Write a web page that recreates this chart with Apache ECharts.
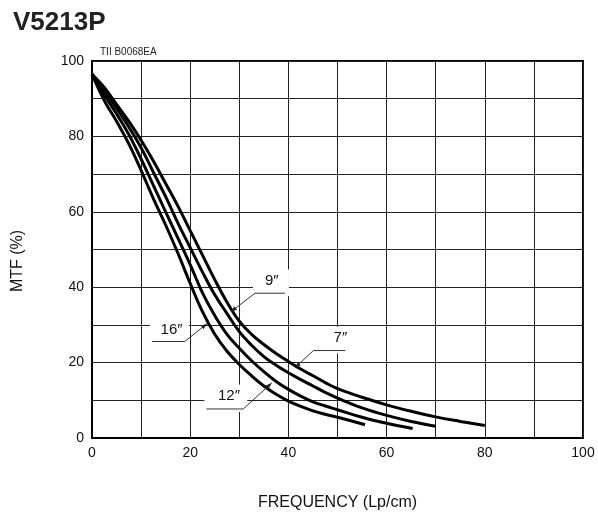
<!DOCTYPE html>
<html>
<head>
<meta charset="utf-8">
<title>V5213P</title>
<script src="https://cdn.jsdelivr.net/npm/echarts@6/dist/echarts.min.js"></script>
<style>
  html, body { margin: 0; padding: 0; background: #fff; }
  #mychart { width: 598px; height: 517px; }
</style>
</head>
<body>
<div id="mychart"></div>
<script>
// MTF curves, points are [frequency (Lp/cm), MTF (%)]
var curveNames = ['16″', '12″', '9″', '7″']
var mtf16 = [[0, 96.5], [2.5, 89.5], [5, 84], [7.5, 78], [10, 71], [12.5, 63.5], [15, 56.5], [17.5, 49], [20, 41], [22.5, 33.5], [25, 27.5], [27.5, 23], [30, 19.5], [32.5, 16.5], [35, 13.8], [37.5, 11.6], [40, 9.8], [42.5, 8.4], [45, 7.2], [47.5, 6.3], [50, 5.5], [55.6, 3.5]]
var mtf12 = [[0, 96.5], [2.5, 91], [5, 86], [7.5, 80.5], [10, 74], [12.5, 67], [15, 60], [17.5, 53], [20, 46], [22.5, 38.5], [25, 32.5], [27.5, 27.5], [30, 23.8], [32.5, 20.5], [35, 17.6], [37.5, 15], [40, 12.9], [42.5, 11.1], [45, 9.6], [47.5, 8.5], [50, 7.5], [55, 5.5], [60, 3.9], [65.3, 2.5]]
var mtf9 = [[0, 96.5], [2.5, 92], [5, 87.5], [7.5, 82.5], [10, 77], [12.5, 70.5], [15, 64], [17.5, 57], [20, 50.5], [22.5, 44], [25, 38], [27.5, 33], [30, 28.2], [32.5, 24.6], [35, 21.6], [37.5, 19.3], [40, 17.3], [42.5, 15.5], [45, 13.8], [47.5, 12.1], [50, 10.6], [55, 8], [60, 6], [65, 4.4], [70, 3.1]]
var mtf7 = [[0, 96.5], [2.5, 93], [5, 88.5], [7.5, 84], [10, 79], [12.5, 73.5], [15, 67.5], [17.5, 61.5], [20, 55], [22.5, 48.5], [25, 42], [27.5, 36], [30, 31], [32.5, 27.5], [35, 24.8], [37.5, 22.4], [40, 20.3], [42.5, 18.3], [45, 16.5], [47.5, 14.7], [50, 13.1], [55, 10.8], [60, 8.8], [65, 7.1], [70, 5.6], [75, 4.4], [80, 3.3]]
var curveData = [mtf16, mtf12, mtf9, mtf7]

var xTickLabels = [0, 20, 40, 60, 80, 100]
var yTickLabels = [0, 20, 40, 60, 80, 100]

// callout anchors in data units: text centre, underline + leader polyline
var callouts = [
  { text: '16″', at: [16.2, 28.6], path: [[12.2, 25.6], [18.9, 25.6], [23.4, 30.3]] },
  { text: '12″', at: [27.9, 11.3], path: [[23.3, 7.7], [30.8, 7.7], [36.6, 14.6]] },
  { text: '9″', at: [36.6, 41.8], path: [[39.3, 38.4], [33.2, 38.4], [28.3, 33.5]] },
  { text: '7″', at: [50.6, 26.6], path: [[51.6, 23.2], [45.1, 23.2], [41.3, 18.6]] }
]

var FONT = 'Liberation Sans, Arial, sans-serif'

var chartDom = document.getElementById('mychart')
var myChart = echarts.init(chartDom)

var series = curveNames.map(function (name, i) {
  return {
    name: name,
    type: 'line',
    data: curveData[i],
    smooth: 0.4,
    showSymbol: false,
    lineStyle: { color: '#000', width: 3 },
    z: 3
  }
})

var option = {
  animation: false,
  backgroundColor: '#fff',
  title: [
    {
      text: 'V5213P',
      left: 8,
      top: 5,
      textStyle: { fontFamily: FONT, fontSize: 26, fontWeight: 'bold', color: '#222' }
    },
    {
      text: 'TII B0068EA',
      left: 95,
      top: 42,
      textStyle: { fontFamily: FONT, fontSize: 10, fontWeight: 'normal', color: '#222' }
    }
  ],
  grid: {
    left: 92,
    right: 15,
    top: 61,
    bottom: 79,
    show: true,
    borderColor: '#000',
    borderWidth: 2,
    containLabel: false
  },
  xAxis: {
    type: 'value',
    min: 0,
    max: 100,
    interval: 10,
    name: 'FREQUENCY (Lp/cm)',
    nameLocation: 'middle',
    nameGap: 57,
    nameTextStyle: { fontFamily: FONT, fontSize: 16, color: '#111' },
    axisLine: { lineStyle: { color: '#000', width: 2 } },
    axisTick: { show: false },
    axisLabel: {
      margin: 8,
      fontFamily: FONT,
      fontSize: 14,
      color: '#111',
      formatter: function (v) { return xTickLabels.indexOf(v) >= 0 ? String(v) : '' }
    },
    splitLine: { show: true, lineStyle: { color: '#222', width: 1 } }
  },
  yAxis: {
    type: 'value',
    min: 0,
    max: 100,
    interval: 10,
    axisLine: { show: true, lineStyle: { color: '#000', width: 2 } },
    axisTick: { show: false },
    axisLabel: {
      margin: 8,
      fontFamily: FONT,
      fontSize: 14,
      color: '#111',
      formatter: function (v) { return yTickLabels.indexOf(v) >= 0 ? String(v) : '' }
    },
    splitLine: { show: true, lineStyle: { color: '#222', width: 1 } }
  },
  series: series
}
myChart.setOption(option)

// callout labels, placed from data coordinates
function toPx(p) {
  return myChart.convertToPixel({ gridIndex: 0 }, p)
}

var graphics = [
  {
    // y axis title, sits a little below the plot middle in the original
    type: 'text',
    x: 18,
    y: 261,
    rotation: Math.PI / 2,
    style: {
      text: 'MTF (%)',
      font: '16px ' + FONT,
      fill: '#111',
      align: 'center',
      verticalAlign: 'middle'
    }
  }
]
callouts.forEach(function (c) {
  var pts = c.path.map(toPx)
  var t = toPx(c.at)
  var xs = [pts[0][0], pts[1][0]]
  var bx = Math.min(xs[0], xs[1]) - 2
  var bw = Math.abs(xs[0] - xs[1]) + 6
  // white patch hiding the grid behind the label
  graphics.push({
    type: 'rect',
    z: 1,
    shape: { x: bx, y: t[1] - 11, width: bw, height: pts[0][1] - t[1] + 14 },
    style: { fill: '#fff' }
  })
  graphics.push({
    type: 'polyline',
    z: 5,
    shape: { points: pts },
    style: { stroke: '#333', lineWidth: 1, fill: null }
  })
  // small arrow head at the curve end
  var p = pts[2]
  var q = pts[1]
  var dx = p[0] - q[0]
  var dy = p[1] - q[1]
  var len = Math.sqrt(dx * dx + dy * dy)
  var ux = dx / len
  var uy = dy / len
  graphics.push({
    type: 'polygon',
    z: 5,
    shape: {
      points: [
        [p[0], p[1]],
        [p[0] - 6 * ux + 2.2 * uy, p[1] - 6 * uy - 2.2 * ux],
        [p[0] - 6 * ux - 2.2 * uy, p[1] - 6 * uy + 2.2 * ux]
      ]
    },
    style: { fill: '#222' }
  })
  graphics.push({
    type: 'text',
    z: 5,
    x: t[0],
    y: t[1],
    style: {
      text: c.text,
      font: '15px ' + FONT,
      fill: '#111',
      align: 'center',
      verticalAlign: 'middle'
    }
  })
})
myChart.setOption({ graphic: graphics })
</script>
</body>
</html>
